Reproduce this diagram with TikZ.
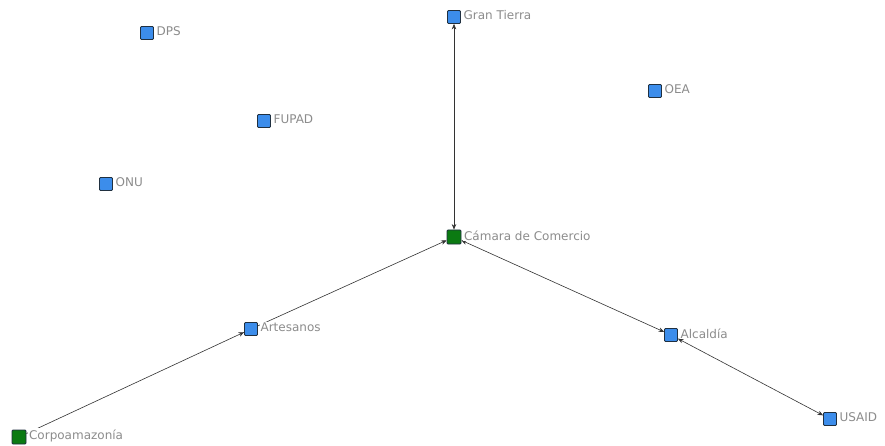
\documentclass[tikz,border=0pt]{standalone}
\usepackage{fontspec}
\setmainfont{DejaVu Sans}
\usetikzlibrary{arrows.meta}
\definecolor{nodeblue}{HTML}{3C8DEB}
\definecolor{nodegreen}{HTML}{0B7A12}
\definecolor{nodeborder}{HTML}{203040}
\definecolor{labgray}{HTML}{8C8C8C}
\begin{document}
\begin{tikzpicture}[x=1pt,y=-1pt,
  actor/.style={rectangle, draw=nodeborder, line width=0.8pt, fill=nodeblue, minimum size=13pt, inner sep=0pt, rounded corners=1pt},
  greenactor/.style={actor, fill=nodegreen, minimum size=14pt},
  lab/.style={font=\fontsize{12}{14}\selectfont, text=labgray, fill=white, inner sep=1pt, anchor=west},
  tie/.style={draw=black!80, line width=0.6pt},
  both/.style={tie, {Stealth[length=5.5pt,width=4.5pt]}-{Stealth[length=5.5pt,width=4.5pt]}},
  one/.style={tie, -{Stealth[length=5.5pt,width=4.5pt]}}]
\useasboundingbox (0,0) rectangle (885,446);
\fill[white] (0,0) rectangle (885,446);
% actors
\node[actor] (gt) at (454,17) {};
\node[actor] (dps) at (147,33) {};
\node[actor] (oea) at (655,91) {};
\node[actor] (fupad) at (264,121) {};
\node[actor] (onu) at (106,184) {};
\node[greenactor] (cam) at (454,237) {};
\node[actor] (art) at (251,329) {};
\node[actor] (alc) at (671,335) {};
\node[actor] (usaid) at (830,419) {};
\node[greenactor] (corp) at (19,437) {};
% ties
\draw[both] (gt) -- (cam);
\draw[one] (art) -- (cam);
\draw[one] (corp) -- (art);
\draw[both] (cam) -- (alc);
\draw[both] (alc) -- (usaid);
% labels
\node[lab] (gt-l) at ([xshift=1.5pt,yshift=1.5pt]gt.east) {Gran Tierra};
\node[lab] (dps-l) at ([xshift=1.5pt,yshift=1.5pt]dps.east) {DPS};
\node[lab] (oea-l) at ([xshift=1.5pt,yshift=1.5pt]oea.east) {OEA};
\node[lab] (fupad-l) at ([xshift=1.5pt,yshift=1.5pt]fupad.east) {FUPAD};
\node[lab] (onu-l) at ([xshift=1.5pt,yshift=1.5pt]onu.east) {ONU};
\node[lab] (cam-l) at ([xshift=1.5pt,yshift=1.5pt]cam.east) {Cámara de Comercio};
\node[lab] (art-l) at ([xshift=1.5pt,yshift=1.5pt]art.east) {Artesanos};
\node[lab] (alc-l) at ([xshift=1.5pt,yshift=1.5pt]alc.east) {Alcaldía};
\node[lab] (usaid-l) at ([xshift=1.5pt,yshift=1.5pt]usaid.east) {USAID};
\node[lab] (corp-l) at ([xshift=1.5pt,yshift=1.5pt]corp.east) {Corpoamazonía};
\end{tikzpicture}
\end{document}
